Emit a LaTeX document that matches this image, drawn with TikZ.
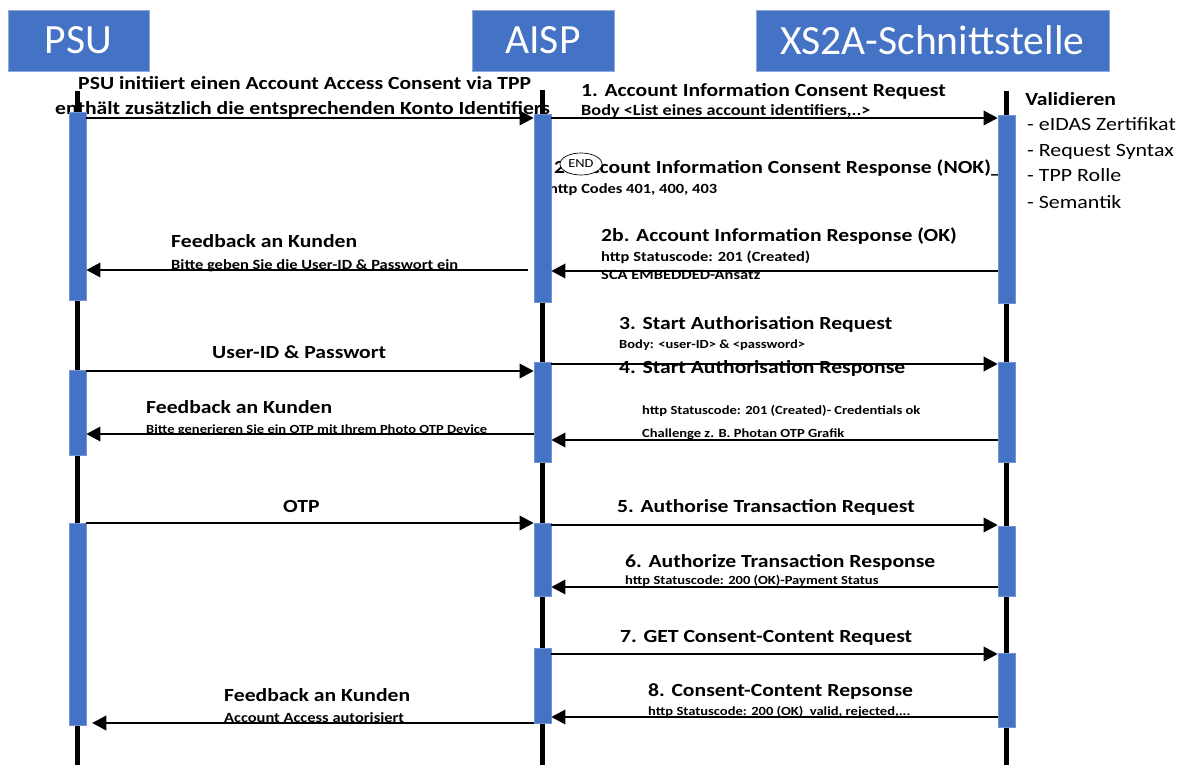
\documentclass[tikz,border=0pt]{standalone}
\usepackage{fontspec}
\setmainfont{Carlito}
\newfontfamily\breit[FakeStretch=1.17]{Carlito}
\usetikzlibrary{arrows.meta,positioning,shapes.geometric}
\definecolor{blau}{HTML}{4472C4}
\definecolor{blaurand}{HTML}{8EA9DB}
\def\px{0.03cm}
\tikzset{
    %Define standard arrow tip
    >={Triangle[length=12pt,width=12.5pt]},
    %Define style for the header boxes
    kopf/.style={
           rectangle,
           fill=blau,
           draw=blaurand, thin,
           text=white,
           font=\fontsize{35.5}{40}\selectfont,
           minimum height=61*\px,
           inner sep=0pt},
    % Define style for lifelines and activation bars
    linie/.style={line width=4.3pt},
    balken/.style={
           rectangle,
           fill=blau,
           draw=blau!75!white, line width=0.6pt,
           minimum width=17*\px,
           inner sep=0pt},
    % Define styles for the labels
    titel/.style={font=\breit\bfseries\fontsize{15.8}{18}\selectfont, anchor=base west, inner sep=0pt},
    notiz/.style={font=\breit\bfseries\fontsize{12}{14}\selectfont, anchor=base west, inner sep=0pt},
    klein/.style={font=\breit\bfseries\fontsize{10.6}{12}\selectfont, anchor=base west, inner sep=0pt},
    liste/.style={font=\breit\fontsize{16}{18}\selectfont, anchor=base west, inner sep=0pt},
    % Define arrow style
    pfeil/.style={
           ->,
           line width=1.3pt},
}

\begin{document}
\begin{tikzpicture}[x=0.03cm, y=-0.03cm]
 \useasboundingbox (0,0) rectangle (1182,765);
 %header boxes
 \node[kopf, minimum width=141*\px] (psu) at (78.5,40.5) {PSU};
 \node[kopf, minimum width=142*\px] (aisp) at (543,40.5) {AISP};
 \node[kopf, minimum width=353*\px] (xs2a) at (932.5,40.5) {XS2A-Schnittstelle};

 %labels
 \node[titel] (init1) at (78,90) {PSU initiiert einen Account Access Consent via TPP};
 \node[titel] (init2) at (55,115) {enthält zusätzlich die entsprechenden Konto Identifiers};
 \node[titel] (req1) at (581,97) {1. Account Information Consent Request};
 \node[notiz, font=\breit\bfseries\fontsize{13.3}{15}\selectfont] (body1) at (581,116) {Body <List eines account identifiers,..>};
 \node[titel] (nok) at (554,174) {2. Account Information Consent Response (NOK)\_};
 \node[notiz] (codes) at (549,194) {http Codes 401, 400, 403};
 \node[titel] (val) at (1025,106) {Validieren};
 \node[liste] (v1) at (1027,131) {- eIDAS Zertifikat};
 \node[liste] (v2) at (1027,157) {- Request Syntax};
 \node[liste] (v3) at (1027,182) {- TPP Rolle};
 \node[liste] (v4) at (1027,208) {- Semantik};
 \node[titel] (ok) at (601,241) {2b. Account Information Response (OK)};
 \node[notiz] (st201) at (601,261) {http Statuscode: 201 (Created)};
 \node[notiz] (sca) at (601,279) {SCA EMBEDDED-Ansatz};
 \node[titel] (fb1) at (171,248) {Feedback an Kunden};
 \node[notiz] (fb1b) at (171,269) {Bitte geben Sie die User-ID \& Passwort ein};
 \node[titel] (req3) at (619,329) {3. Start Authorisation Request};
 \node[klein] (body3) at (619,348) {Body: <user-ID> \& <password>};
 \node[titel] (up) at (212,358) {User-ID \& Passwort};
 \node[titel] (resp4) at (619,373) {4. Start Authorisation Response};
 \node[klein] (st201b) at (642,414) {http Statuscode: 201 (Created)- Credentials ok};
 \node[klein] (chal) at (642,437) {Challenge z. B. Photan OTP Grafik};
 \node[titel] (fb2) at (146,413) {Feedback an Kunden};
 \node[klein] (fb2b) at (146,433) {Bitte generieren Sie ein OTP mit Ihrem Photo OTP Device};
 \node[titel] (otp) at (283,512) {OTP};
 \node[titel] (req5) at (617,512) {5. Authorise Transaction Request};
 \node[titel] (resp6) at (625,567) {6. Authorize Transaction Response};
 \node[klein] (st200) at (625,584) {http Statuscode: 200 (OK)-Payment Status};
 \node[titel] (req7) at (620,642) {7. GET Consent-Content Request};
 \node[titel] (resp8) at (648,696) {8. Consent-Content Repsonse};
 \node[klein] (st200b) at (648,715) {http Statuscode: 200 (OK)~ valid, rejected,...};
 \node[titel] (fb3) at (224,701) {Feedback an Kunden};
 \node[notiz] (fb3b) at (224,722) {Account Access autorisiert};

 %lifelines
 \coordinate (psuOben) at (77.5,91);
 \coordinate (psuUnten) at (77.5,765);
 \coordinate (aispOben) at (542.5,90);
 \coordinate (aispUnten) at (542.5,765);
 \coordinate (xsOben) at (1006.5,91);
 \coordinate (xsUnten) at (1006.5,765);
 \draw[linie] (psuOben) -- (psuUnten);
 \draw[linie] (aispOben) -- (aispUnten);
 \draw[linie] (xsOben) -- (xsUnten);

 %activation bars
 \node[balken, minimum height=188*\px] (psu1) at (77.5,206) {};
 \node[balken, minimum height=85*\px] (psu2) at (77.5,412.5) {};
 \node[balken, minimum height=202*\px] (psu3) at (77.5,624) {};
 \node[balken, minimum height=188*\px] (aisp1) at (542.5,208) {};
 \node[balken, minimum height=100*\px] (aisp2) at (542.5,412) {};
 \node[balken, minimum height=73*\px] (aisp3) at (542.5,559.5) {};
 \node[balken, minimum height=75*\px] (aisp4) at (542.5,685.5) {};
 \node[balken, minimum height=188*\px] (xs1) at (1006.5,209) {};
 \node[balken, minimum height=100*\px] (xs2) at (1006.5,412) {};
 \node[balken, minimum height=70*\px] (xs3) at (1006.5,561) {};
 \node[balken, minimum height=74*\px] (xs4) at (1006.5,690) {};

 %message levels
 \coordinate (n0) at (0,118);
 \coordinate (n2b) at (0,271);
 \coordinate (nfb1) at (0,270);
 \coordinate (n3) at (0,364);
 \coordinate (nup) at (0,371);
 \coordinate (nfb2) at (0,434);
 \coordinate (n4) at (0,440);
 \coordinate (notp) at (0,523);
 \coordinate (n5) at (0,525);
 \coordinate (n6) at (0,587);
 \coordinate (n7) at (0,654);
 \coordinate (n8) at (0,717);
 \coordinate (nfb3) at (0,723);

 %messages
 \draw[pfeil] (psu1.east |- n0) -- (aisp1.west |- n0);
 \draw[pfeil] (aisp1.east |- n0) -- (xs1.west |- n0);
 \draw[pfeil] (xs1.west |- n2b) -- (aisp1.east |- n2b);
 \draw[pfeil, shorten <=5pt] (aisp1.west |- nfb1) -- (psu1.east |- nfb1);
 \draw[pfeil] (aisp2.east |- n3) -- (xs2.west |- n3);
 \draw[pfeil] (psu2.east |- nup) -- (aisp2.west |- nup);
 \draw[pfeil] (xs2.west |- n4) -- (aisp2.east |- n4);
 \draw[pfeil] (aisp2.west |- nfb2) -- (psu2.east |- nfb2);
 \draw[pfeil] (psu3.east |- notp) -- (aisp3.west |- notp);
 \draw[pfeil] (aisp3.east |- n5) -- (xs3.west |- n5);
 \draw[pfeil] (xs3.west |- n6) -- (aisp3.east |- n6);
 \draw[pfeil] (aisp4.east |- n7) -- (xs4.west |- n7);
 \draw[pfeil] (xs4.west |- n8) -- (aisp4.east |- n8);
 \draw[pfeil, shorten >=5pt] (aisp4.west |- nfb3) -- (psu3.east |- nfb3);

 % END marker over the NOK label
 \node[ellipse, draw, fill=white, line width=0.6pt, inner sep=0pt,
       minimum width=42*\px, minimum height=22*\px,
       font=\breit\fontsize{10.5}{12}\selectfont] (ende) at (581,164) {END};
\end{tikzpicture}
\end{document}
